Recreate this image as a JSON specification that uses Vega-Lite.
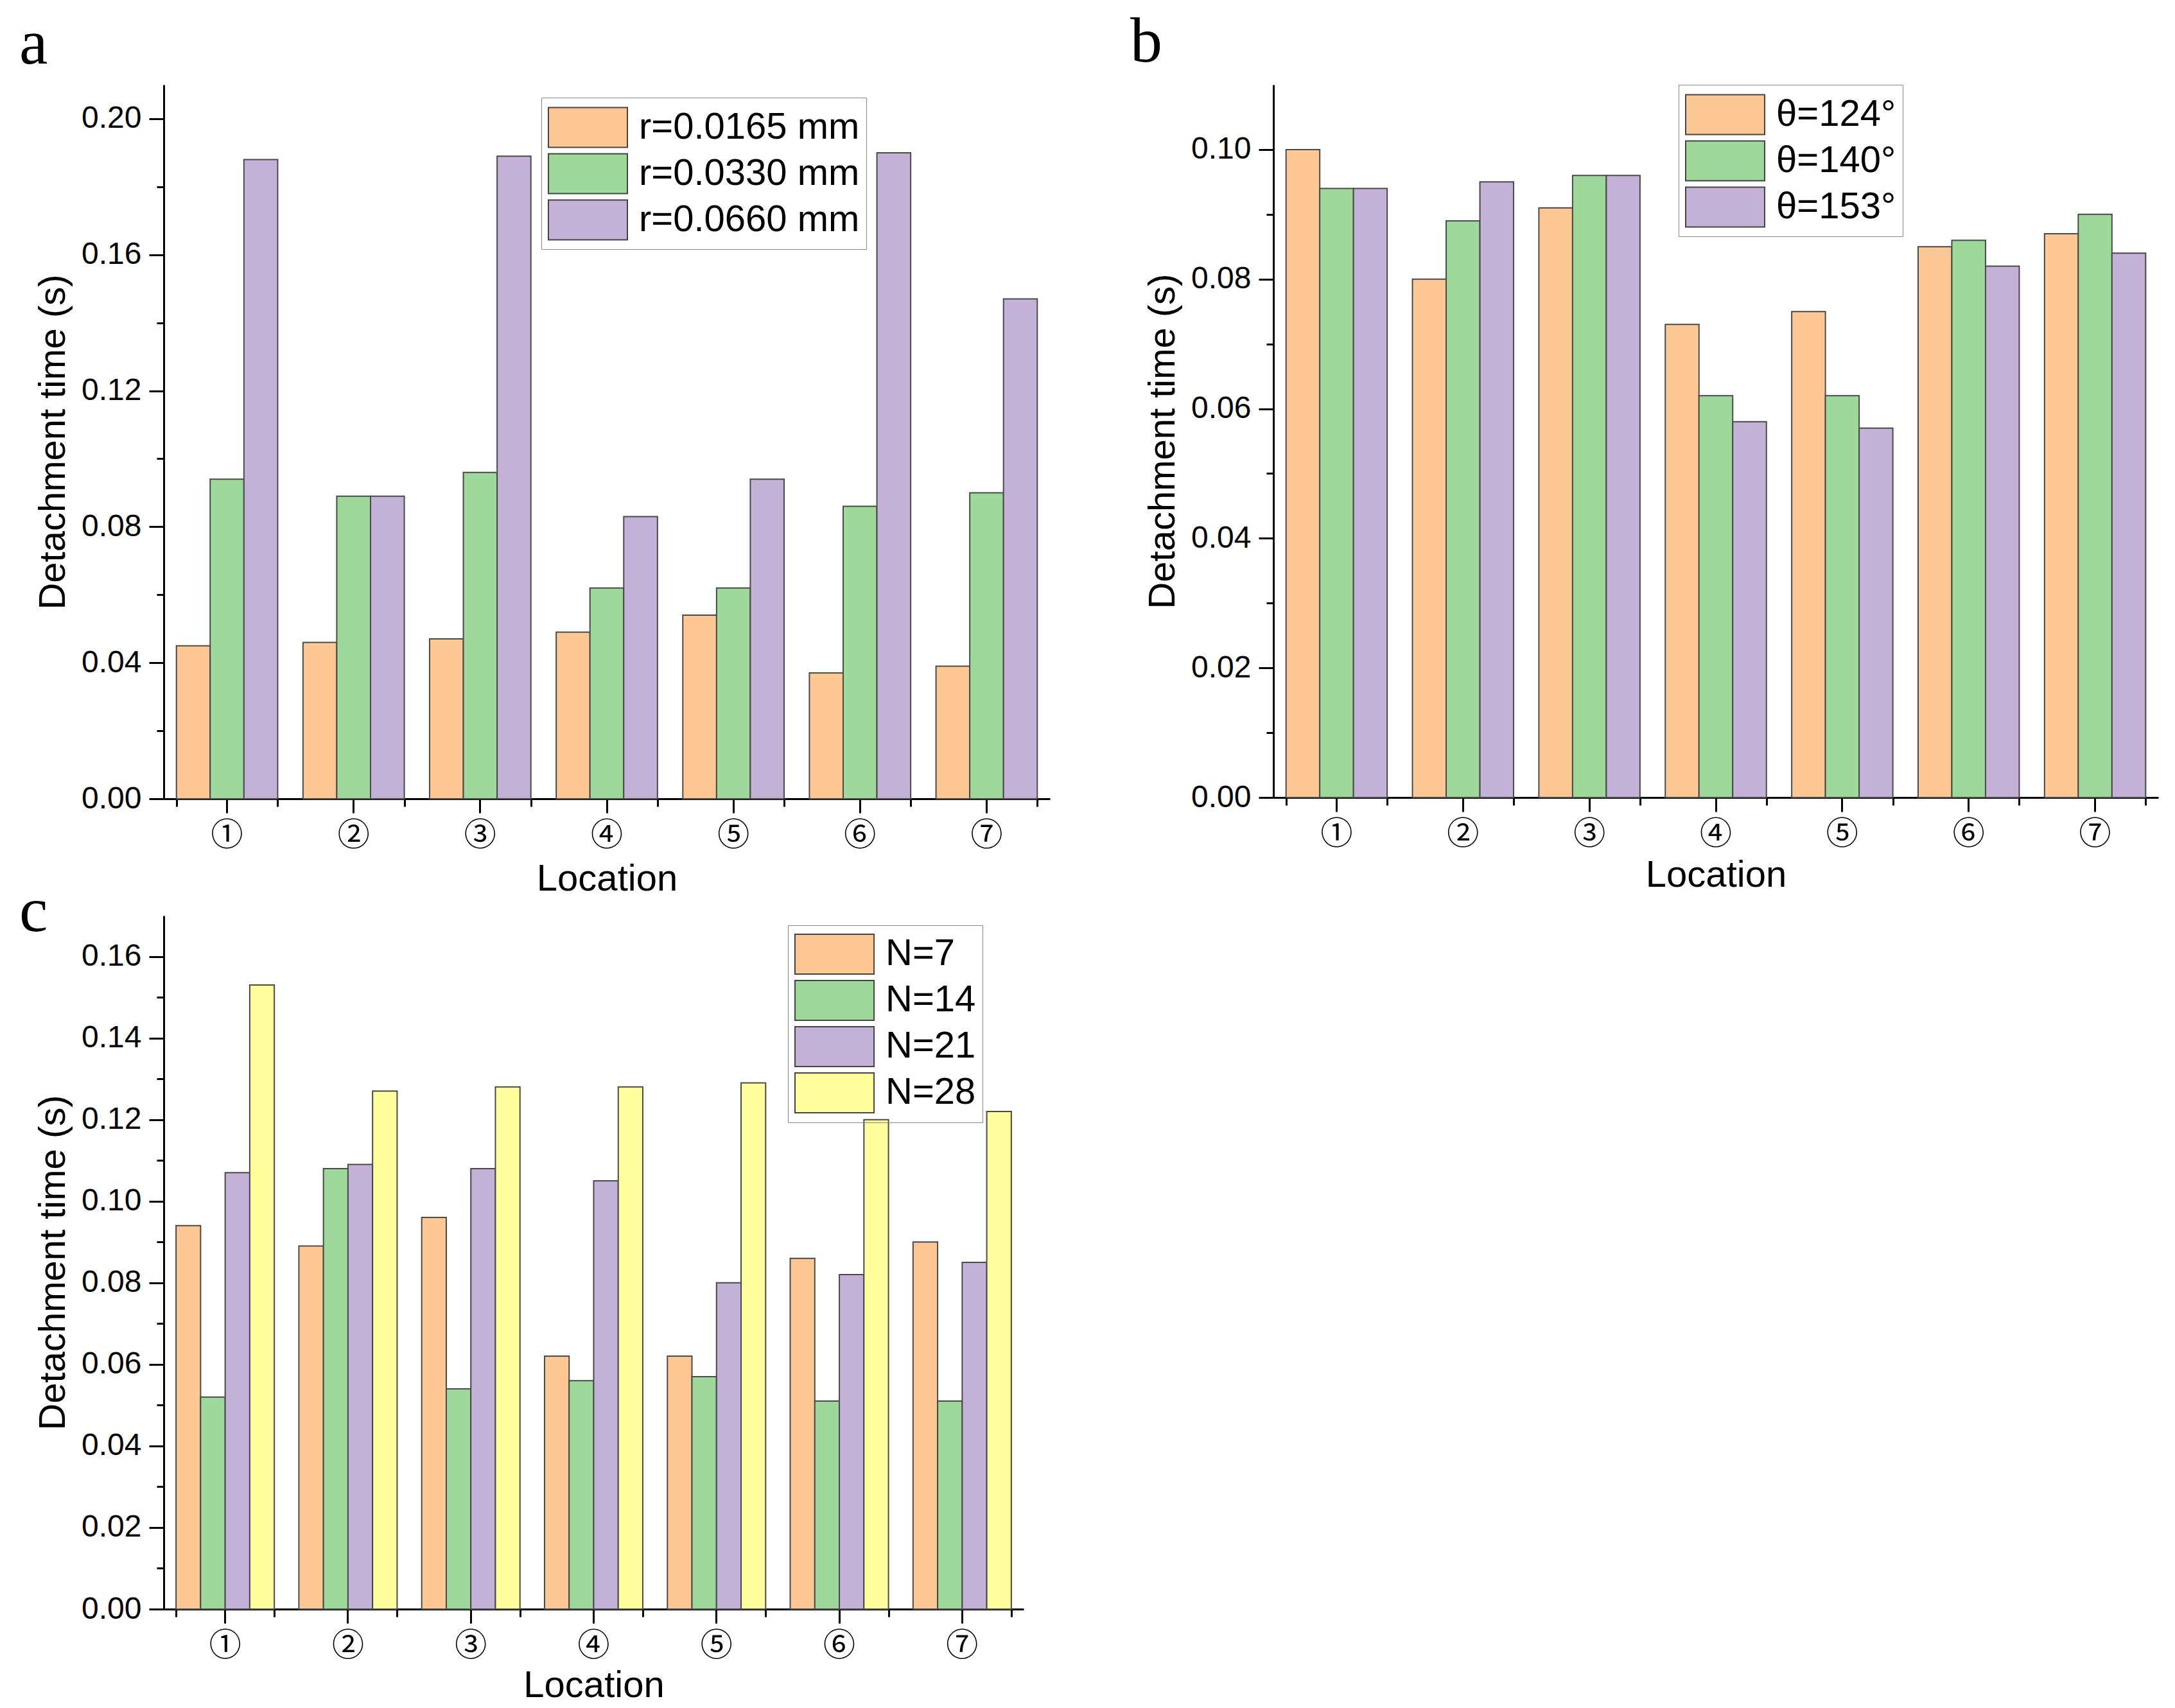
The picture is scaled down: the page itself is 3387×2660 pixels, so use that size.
{
  "$schema": "https://vega.github.io/schema/vega-lite/v6.json",
  "background": "white",
  "padding": {"left": 30, "top": 15, "right": 20, "bottom": 20},
  "config": {
    "view": {"stroke": null},
    "axis": {
      "grid": false,
      "domainColor": "#000000",
      "domainWidth": 3,
      "tickColor": "#000000",
      "tickWidth": 3,
      "labelColor": "#000000",
      "labelFont": "Liberation Sans",
      "labelFontSize": 48,
      "titleFont": "Liberation Sans",
      "titleFontSize": 58,
      "titleFontWeight": "normal",
      "titleColor": "#000000"
    },
    "legend": {
      "labelFont": "Liberation Sans",
      "labelFontSize": 58,
      "labelColor": "#000000",
      "labelLimit": 0,
      "strokeColor": "#888888",
      "padding": 10,
      "rowPadding": 0,
      "symbolStrokeColor": "#444444",
      "symbolStrokeWidth": 2
    },
    "title": {
      "font": "Liberation Serif",
      "fontSize": 100,
      "fontWeight": "normal",
      "color": "#000000",
      "anchor": "start",
      "frame": "group",
      "baseline": "alphabetic"
    }
  },
  "bounds": "flush",
  "columns": 2,
  "spacing": {"row": 182, "column": 348},
  "resolve": {
    "scale": {"x": "independent", "y": "independent", "xOffset": "independent", "color": "independent"},
    "legend": {"color": "independent"}
  },
  "concat": [
    {
      "title": {"text": "a", "dx": -225, "offset": 12},
      "width": 1380,
      "height": 1112,
      "data": {
        "values": [
          {"loc": "①", "series": "r=0.0165 mm", "t": 0.045},
          {"loc": "①", "series": "r=0.0330 mm", "t": 0.094},
          {"loc": "①", "series": "r=0.0660 mm", "t": 0.188},
          {"loc": "②", "series": "r=0.0165 mm", "t": 0.046},
          {"loc": "②", "series": "r=0.0330 mm", "t": 0.089},
          {"loc": "②", "series": "r=0.0660 mm", "t": 0.089},
          {"loc": "③", "series": "r=0.0165 mm", "t": 0.047},
          {"loc": "③", "series": "r=0.0330 mm", "t": 0.096},
          {"loc": "③", "series": "r=0.0660 mm", "t": 0.189},
          {"loc": "④", "series": "r=0.0165 mm", "t": 0.049},
          {"loc": "④", "series": "r=0.0330 mm", "t": 0.062},
          {"loc": "④", "series": "r=0.0660 mm", "t": 0.083},
          {"loc": "⑤", "series": "r=0.0165 mm", "t": 0.054},
          {"loc": "⑤", "series": "r=0.0330 mm", "t": 0.062},
          {"loc": "⑤", "series": "r=0.0660 mm", "t": 0.094},
          {"loc": "⑥", "series": "r=0.0165 mm", "t": 0.037},
          {"loc": "⑥", "series": "r=0.0330 mm", "t": 0.086},
          {"loc": "⑥", "series": "r=0.0660 mm", "t": 0.190},
          {"loc": "⑦", "series": "r=0.0165 mm", "t": 0.039},
          {"loc": "⑦", "series": "r=0.0330 mm", "t": 0.090},
          {"loc": "⑦", "series": "r=0.0660 mm", "t": 0.147}
        ]
      },
      "layer": [
        {
          "mark": {"type": "bar", "stroke": "#4a4a4a", "strokeWidth": 2},
          "encoding": {
            "x": {
              "field": "loc", "type": "nominal", "sort": null,
              "scale": {"paddingInner": 0.2, "paddingOuter": 0.1},
              "axis": {"orient": "bottom", "title": "Location", "labelFont": "Noto Sans CJK SC", "labelFontSize": 50, "labelAngle": 0, "tickSize": 22, "labelPadding": 10, "titlePadding": 14}
            },
            "xOffset": {"field": "series", "type": "nominal", "sort": ["r=0.0165 mm", "r=0.0330 mm", "r=0.0660 mm"], "scale": {"paddingInner": 0, "paddingOuter": 0}},
            "y": {
              "field": "t", "type": "quantitative",
              "scale": {"domain": [0, 0.21], "nice": false, "zero": true},
              "axis": {"orient": "left", "title": "Detachment time (s)", "values": [0, 0.04, 0.08, 0.12, 0.16, 0.2], "format": ".2f", "tickSize": 23, "labelPadding": 12, "titlePadding": 14}
            },
            "color": {
              "field": "series", "type": "nominal",
              "sort": ["r=0.0165 mm", "r=0.0330 mm", "r=0.0660 mm"],
              "scale": {"domain": ["r=0.0165 mm", "r=0.0330 mm", "r=0.0660 mm"], "range": ["#fec895", "#9ed99b", "#c3b1d7"]},
              "legend": {"title": null, "orient": "none", "legendX": 588, "legendY": 20, "symbolType": "M-1,-0.873L2.465,-0.873L2.465,0.873L-1,0.873Z", "symbolSize": 5041, "labelOffset": 69}
            }
          }
        },
        {
          "mark": {"type": "rule", "strokeOpacity": 0},
          "encoding": {
            "x": {"field": "loc", "type": "nominal", "sort": null, "axis": {"orient": "bottom", "tickBand": "extent", "tickSize": 12, "labels": false, "domain": false, "title": null}}
          }
        },
        {
          "mark": {"type": "rule", "strokeOpacity": 0},
          "encoding": {
            "y": {"field": "t", "type": "quantitative", "scale": {"domain": [0, 0.21], "nice": false, "zero": true}, "axis": {"orient": "left", "values": [0.02, 0.06, 0.1, 0.14, 0.18], "tickSize": 11, "labels": false, "domain": false, "title": null}}
          }
        }
      ],
      "resolve": {"axis": {"x": "independent", "y": "independent"}}
    },
    {
      "title": {"text": "b", "dx": -223, "offset": 15},
      "width": 1378,
      "height": 1110,
      "data": {
        "values": [
          {"loc": "①", "series": "θ=124°", "t": 0.100},
          {"loc": "①", "series": "θ=140°", "t": 0.094},
          {"loc": "①", "series": "θ=153°", "t": 0.094},
          {"loc": "②", "series": "θ=124°", "t": 0.080},
          {"loc": "②", "series": "θ=140°", "t": 0.089},
          {"loc": "②", "series": "θ=153°", "t": 0.095},
          {"loc": "③", "series": "θ=124°", "t": 0.091},
          {"loc": "③", "series": "θ=140°", "t": 0.096},
          {"loc": "③", "series": "θ=153°", "t": 0.096},
          {"loc": "④", "series": "θ=124°", "t": 0.073},
          {"loc": "④", "series": "θ=140°", "t": 0.062},
          {"loc": "④", "series": "θ=153°", "t": 0.058},
          {"loc": "⑤", "series": "θ=124°", "t": 0.075},
          {"loc": "⑤", "series": "θ=140°", "t": 0.062},
          {"loc": "⑤", "series": "θ=153°", "t": 0.057},
          {"loc": "⑥", "series": "θ=124°", "t": 0.085},
          {"loc": "⑥", "series": "θ=140°", "t": 0.086},
          {"loc": "⑥", "series": "θ=153°", "t": 0.082},
          {"loc": "⑦", "series": "θ=124°", "t": 0.087},
          {"loc": "⑦", "series": "θ=140°", "t": 0.090},
          {"loc": "⑦", "series": "θ=153°", "t": 0.084}
        ]
      },
      "layer": [
        {
          "mark": {"type": "bar", "stroke": "#4a4a4a", "strokeWidth": 2},
          "encoding": {
            "x": {
              "field": "loc", "type": "nominal", "sort": null,
              "scale": {"paddingInner": 0.2, "paddingOuter": 0.1},
              "axis": {"orient": "bottom", "title": "Location", "labelFont": "Noto Sans CJK SC", "labelFontSize": 50, "labelAngle": 0, "tickSize": 22, "labelPadding": 10, "titlePadding": 10}
            },
            "xOffset": {"field": "series", "type": "nominal", "sort": ["θ=124°", "θ=140°", "θ=153°"], "scale": {"paddingInner": 0, "paddingOuter": 0}},
            "y": {
              "field": "t", "type": "quantitative",
              "scale": {"domain": [0, 0.11], "nice": false, "zero": true},
              "axis": {"orient": "left", "title": "Detachment time (s)", "values": [0, 0.02, 0.04, 0.06, 0.08, 0.1], "format": ".2f", "tickSize": 23, "labelPadding": 12, "titlePadding": 14}
            },
            "color": {
              "field": "series", "type": "nominal",
              "sort": ["θ=124°", "θ=140°", "θ=153°"],
              "scale": {"domain": ["θ=124°", "θ=140°", "θ=153°"], "range": ["#fec895", "#9ed99b", "#c3b1d7"]},
              "legend": {"title": null, "orient": "none", "legendX": 631, "legendY": 0, "symbolType": "M-1,-0.873L2.465,-0.873L2.465,0.873L-1,0.873Z", "symbolSize": 5041, "labelOffset": 69}
            }
          }
        },
        {
          "mark": {"type": "rule", "strokeOpacity": 0},
          "encoding": {
            "x": {"field": "loc", "type": "nominal", "sort": null, "axis": {"orient": "bottom", "tickBand": "extent", "tickSize": 12, "labels": false, "domain": false, "title": null}}
          }
        },
        {
          "mark": {"type": "rule", "strokeOpacity": 0},
          "encoding": {
            "y": {"field": "t", "type": "quantitative", "scale": {"domain": [0, 0.11], "nice": false, "zero": true}, "axis": {"orient": "left", "values": [0.01, 0.03, 0.05, 0.07, 0.09], "tickSize": 11, "labels": false, "domain": false, "title": null}}
          }
        }
      ],
      "resolve": {"axis": {"x": "independent", "y": "independent"}}
    },
    {
      "title": {"text": "c", "dx": -225, "offset": 0, "dy": 45},
      "width": 1339,
      "height": 1080,
      "data": {
        "values": [
          {"loc": "①", "series": "N=7", "t": 0.094},
          {"loc": "①", "series": "N=14", "t": 0.052},
          {"loc": "①", "series": "N=21", "t": 0.107},
          {"loc": "①", "series": "N=28", "t": 0.153},
          {"loc": "②", "series": "N=7", "t": 0.089},
          {"loc": "②", "series": "N=14", "t": 0.108},
          {"loc": "②", "series": "N=21", "t": 0.109},
          {"loc": "②", "series": "N=28", "t": 0.127},
          {"loc": "③", "series": "N=7", "t": 0.096},
          {"loc": "③", "series": "N=14", "t": 0.054},
          {"loc": "③", "series": "N=21", "t": 0.108},
          {"loc": "③", "series": "N=28", "t": 0.128},
          {"loc": "④", "series": "N=7", "t": 0.062},
          {"loc": "④", "series": "N=14", "t": 0.056},
          {"loc": "④", "series": "N=21", "t": 0.105},
          {"loc": "④", "series": "N=28", "t": 0.128},
          {"loc": "⑤", "series": "N=7", "t": 0.062},
          {"loc": "⑤", "series": "N=14", "t": 0.057},
          {"loc": "⑤", "series": "N=21", "t": 0.080},
          {"loc": "⑤", "series": "N=28", "t": 0.129},
          {"loc": "⑥", "series": "N=7", "t": 0.086},
          {"loc": "⑥", "series": "N=14", "t": 0.051},
          {"loc": "⑥", "series": "N=21", "t": 0.082},
          {"loc": "⑥", "series": "N=28", "t": 0.120},
          {"loc": "⑦", "series": "N=7", "t": 0.090},
          {"loc": "⑦", "series": "N=14", "t": 0.051},
          {"loc": "⑦", "series": "N=21", "t": 0.085},
          {"loc": "⑦", "series": "N=28", "t": 0.122}
        ]
      },
      "layer": [
        {
          "mark": {"type": "bar", "stroke": "#4a4a4a", "strokeWidth": 2},
          "encoding": {
            "x": {
              "field": "loc", "type": "nominal", "sort": null,
              "scale": {"paddingInner": 0.2, "paddingOuter": 0.1},
              "axis": {"orient": "bottom", "title": "Location", "labelFont": "Noto Sans CJK SC", "labelFontSize": 50, "labelAngle": 0, "tickSize": 22, "labelPadding": 10, "titlePadding": 8}
            },
            "xOffset": {"field": "series", "type": "nominal", "sort": ["N=7", "N=14", "N=21", "N=28"], "scale": {"paddingInner": 0, "paddingOuter": 0}},
            "y": {
              "field": "t", "type": "quantitative",
              "scale": {"domain": [0, 0.17], "nice": false, "zero": true},
              "axis": {"orient": "left", "title": "Detachment time (s)", "values": [0, 0.02, 0.04, 0.06, 0.08, 0.1, 0.12, 0.14, 0.16], "format": ".2f", "tickSize": 23, "labelPadding": 12, "titlePadding": 14}
            },
            "color": {
              "field": "series", "type": "nominal",
              "sort": ["N=7", "N=14", "N=21", "N=28"],
              "scale": {"domain": ["N=7", "N=14", "N=21", "N=28"], "range": ["#fec895", "#9ed99b", "#c3b1d7", "#ffff9e"]},
              "legend": {"title": null, "orient": "none", "legendX": 972, "legendY": 15, "symbolType": "M-1,-0.912L2.62,-0.912L2.62,0.912L-1,0.912Z", "symbolSize": 4624, "labelOffset": 72}
            }
          }
        },
        {
          "mark": {"type": "rule", "strokeOpacity": 0},
          "encoding": {
            "x": {"field": "loc", "type": "nominal", "sort": null, "axis": {"orient": "bottom", "tickBand": "extent", "tickSize": 12, "labels": false, "domain": false, "title": null}}
          }
        },
        {
          "mark": {"type": "rule", "strokeOpacity": 0},
          "encoding": {
            "y": {"field": "t", "type": "quantitative", "scale": {"domain": [0, 0.17], "nice": false, "zero": true}, "axis": {"orient": "left", "values": [0.01, 0.03, 0.05, 0.07, 0.09, 0.11, 0.13, 0.15], "tickSize": 11, "labels": false, "domain": false, "title": null}}
          }
        }
      ],
      "resolve": {"axis": {"x": "independent", "y": "independent"}}
    }
  ]
}
